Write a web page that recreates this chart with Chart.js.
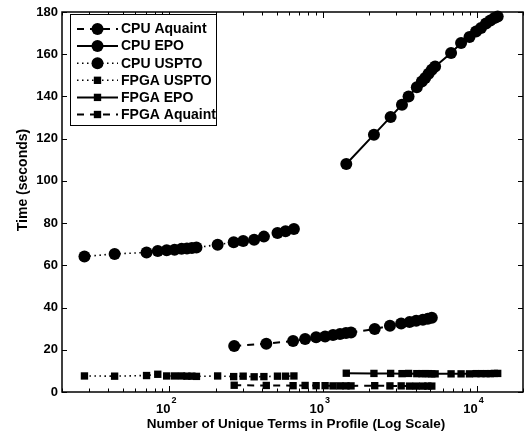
<!DOCTYPE html>
<html>
<head>
<meta charset="utf-8">
<script src="https://cdn.jsdelivr.net/npm/chart.js@4.4.0/dist/chart.umd.min.js"></script>
<style>
html, body { margin: 0; padding: 0; background: #fff; }
</style>
</head>
<body>
<canvas id="c" width="529" height="434"></canvas>
<script>
// profile sizes (unique terms) and timings
var usptoTerms = [28, 44, 71, 84, 96, 108, 120, 130, 140, 150, 206, 262, 302, 356, 412, 505, 570, 646];
var cpuUspto = [64.2, 65.4, 66.1, 66.8, 67.1, 67.4, 67.9, 68.0, 68.2, 68.4, 69.8, 70.9, 71.5, 72.1, 73.6, 75.3, 76.2, 77.2];
var fpgaUspto = [7.6, 7.5, 7.8, 8.4, 7.6, 7.6, 7.6, 7.5, 7.5, 7.4, 7.6, 7.3, 7.5, 7.2, 7.3, 7.5, 7.5, 7.6];

var aquaintTerms = [264, 427, 638, 764, 901, 1031, 1161, 1289, 1410, 1520, 2168, 2723, 3223, 3653, 4035, 4460, 4805, 5100];
var cpuAquaint = [21.8, 22.9, 24.2, 25.1, 25.9, 26.3, 27.0, 27.5, 27.9, 28.2, 29.8, 31.4, 32.4, 33.1, 33.8, 34.2, 34.7, 35.2];
var fpgaAquaint = [3.2, 3.1, 3.0, 3.1, 3.0, 3.0, 2.9, 2.9, 2.9, 2.9, 3.0, 2.9, 2.9, 2.8, 2.8, 2.8, 2.8, 2.8];

var epoTerms = [1416, 2143, 2752, 3262, 3600, 4074, 4393, 4617, 4857, 5100, 5360, 6808, 7908, 8970, 9894, 10660, 11490, 12270, 13030, 13690];
var cpuEpo = [108.0, 121.9, 130.3, 136.1, 140.0, 144.3, 147.1, 148.7, 150.8, 152.7, 154.2, 160.6, 165.3, 168.2, 170.8, 172.4, 174.5, 176.0, 177.2, 177.9];
var fpgaEpo = [8.9, 8.8, 8.8, 8.7, 8.8, 8.7, 8.7, 8.7, 8.7, 8.6, 8.6, 8.6, 8.6, 8.6, 8.7, 8.7, 8.7, 8.7, 8.8, 8.8];

var yTicks = [0, 20, 40, 60, 80, 100, 120, 140, 160, 180];
var xMajor = [100, 1000, 10000];

var FONT = '"Liberation Sans", Arial, Helvetica, sans-serif';
var DASH = [7, 6];
var DOT = [1.5, 3.5];

function pts(xs, ys) {
    return xs.map(function(x, i) { return { x: x, y: ys[i] }; });
}

function series(label, xs, ys, dash, marker, radius) {
    return {
        label: label,
        data: pts(xs, ys),
        showLine: true,
        borderColor: '#000',
        backgroundColor: '#000',
        borderWidth: dash === DOT ? 1.6 : 2,
        borderDash: dash,
        pointStyle: marker,
        pointRadius: radius,
        pointBorderWidth: 0,
        pointHoverRadius: radius,
        clip: false
    };
}

var datasets = [
    series('CPU Aquaint', aquaintTerms, cpuAquaint, DASH, 'circle', 6),
    series('CPU EPO', epoTerms, cpuEpo, [], 'circle', 6),
    series('CPU USPTO', usptoTerms, cpuUspto, DOT, 'circle', 6),
    series('FPGA USPTO', usptoTerms, fpgaUspto, DOT, 'rect', 5.2),
    series('FPGA EPO', epoTerms, fpgaEpo, [], 'rect', 5.2),
    series('FPGA Aquaint', aquaintTerms, fpgaAquaint, DASH, 'rect', 5.2)
];

// MATLAB style box, inward ticks and labels
var axesBox = {
    id: 'axesBox',
    beforeDatasetsDraw: function(chart) {
        var ctx = chart.ctx, a = chart.chartArea;
        var xs = chart.scales.x, ys = chart.scales.y;
        ctx.save();
        ctx.strokeStyle = '#000';
        ctx.lineWidth = 1.5;
        ctx.strokeRect(a.left, a.top, a.right - a.left, a.bottom - a.top);

        ctx.lineWidth = 1;
        ctx.beginPath();
        yTicks.forEach(function(v) {
            var py = Math.round(ys.getPixelForValue(v)) + 0.5;
            ctx.moveTo(a.left, py); ctx.lineTo(a.left + 5, py);
            ctx.moveTo(a.right, py); ctx.lineTo(a.right - 5, py);
        });
        for (var d = 10; d <= 10000; d *= 10) {
            for (var m = 1; m <= 9; m++) {
                var v = d * m;
                if (v < 20 || v > 20000) continue;
                var px = Math.round(xs.getPixelForValue(v)) + 0.5;
                var len = m === 1 ? 6 : 3.5;
                ctx.moveTo(px, a.bottom); ctx.lineTo(px, a.bottom - len);
                ctx.moveTo(px, a.top); ctx.lineTo(px, a.top + len);
            }
        }
        ctx.stroke();

        ctx.fillStyle = '#000';
        ctx.font = 'bold 13px ' + FONT;
        ctx.textAlign = 'right';
        ctx.textBaseline = 'middle';
        yTicks.forEach(function(v) {
            ctx.fillText(String(v), a.left - 4, ys.getPixelForValue(v));
        });

        xMajor.forEach(function(v) {
            var px = xs.getPixelForValue(v);
            ctx.font = 'bold 13px ' + FONT;
            ctx.textAlign = 'right';
            ctx.textBaseline = 'alphabetic';
            ctx.fillText('10', px + 1, 413);
            ctx.font = 'bold 9px ' + FONT;
            ctx.textAlign = 'left';
            ctx.fillText(String(Math.round(Math.log10(v))), px + 2, 403);
        });

        ctx.font = 'bold 13.5px ' + FONT;
        ctx.textAlign = 'center';
        ctx.textBaseline = 'middle';
        ctx.fillText('Number of Unique Terms in Profile (Log Scale)', 296, 424);

        ctx.font = 'bold 14px ' + FONT;
        ctx.save();
        ctx.translate(23, 180);
        ctx.rotate(-Math.PI / 2);
        ctx.fillText('Time (seconds)', 0, 0);
        ctx.restore();
        ctx.restore();
    },
    afterDraw: function(chart) {
        var ctx = chart.ctx;
        ctx.save();
        ctx.fillStyle = '#fff';
        ctx.fillRect(70.5, 14.5, 146, 111);
        ctx.strokeStyle = '#000';
        ctx.lineWidth = 1;
        ctx.strokeRect(70.5, 14.5, 146, 111);
        chart.data.datasets.forEach(function(ds, i) {
            var cy = 29 + i * 17.1;
            ctx.strokeStyle = '#000';
            ctx.lineWidth = ds.borderWidth;
            ctx.setLineDash(ds.borderDash);
            ctx.beginPath();
            ctx.moveTo(77, cy); ctx.lineTo(118, cy);
            ctx.stroke();
            ctx.setLineDash([]);
            ctx.fillStyle = '#000';
            if (ds.pointStyle === 'circle') {
                ctx.beginPath();
                ctx.arc(97.5, cy, ds.pointRadius, 0, Math.PI * 2);
                ctx.fill();
            } else {
                var s = ds.pointRadius * Math.SQRT1_2;
                ctx.fillRect(97.5 - s, cy - s, 2 * s, 2 * s);
            }
            ctx.font = 'bold 14px ' + FONT;
            ctx.textAlign = 'left';
            ctx.textBaseline = 'middle';
            ctx.fillText(ds.label, 121, cy + 0.5);
        });
        ctx.restore();
    }
};

var chart = new Chart(document.getElementById('c').getContext('2d'), {
    type: 'scatter',
    data: { datasets: datasets },
    options: {
        responsive: false,
        animation: false,
        devicePixelRatio: 1,
        layout: { padding: { top: 12, right: 3.6, left: 0, bottom: 0 } },
        plugins: { legend: { display: false }, tooltip: { enabled: false } },
        scales: {
            x: {
                type: 'logarithmic',
                min: 20,
                max: 20000,
                grid: { display: false },
                border: { display: false },
                ticks: { display: false },
                afterFit: function(s) { s.height = 42; }
            },
            y: {
                min: 0,
                max: 180,
                grid: { display: false },
                border: { display: false },
                ticks: { display: false, stepSize: 20 },
                afterFit: function(s) { s.width = 62; }
            }
        }
    },
    plugins: [axesBox]
});
</script>
</body>
</html>
